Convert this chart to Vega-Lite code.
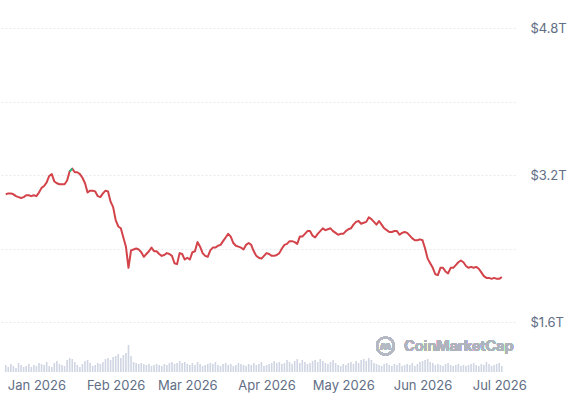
{
"$schema": "https://vega.github.io/schema/vega-lite/v6.json",
"width": 515, "height": 372,
"autosize": {"type": "none"},
"padding": {"left": 0, "top": 0, "right": 60, "bottom": 34},
"background": "white",
"config": {"view": {"stroke": null}, "font": "Inter"},
"data": {"format": {"parse": {"date": "date:'%Y-%m-%d'"}}, "values": [
{"date":"2025-12-20","v":2.99,"vol":70},{"date":"2025-12-21","v":3.00,"vol":50},{"date":"2025-12-22","v":3.00,"vol":80},{"date":"2025-12-23","v":2.99,"vol":60},{"date":"2025-12-24","v":2.97,"vol":40},{"date":"2025-12-25","v":2.96,"vol":90},{"date":"2025-12-26","v":2.95,"vol":70},{"date":"2025-12-27","v":2.96,"vol":50},{"date":"2025-12-28","v":2.98,"vol":60},{"date":"2025-12-29","v":2.98,"vol":80},{"date":"2025-12-30","v":2.97,"vol":50},{"date":"2025-12-31","v":2.98,"vol":70},
{"date":"2026-01-01","v":2.97,"vol":60},{"date":"2026-01-02","v":3.01,"vol":90},{"date":"2026-01-03","v":3.06,"vol":80},{"date":"2026-01-04","v":3.08,"vol":70},{"date":"2026-01-05","v":3.12,"vol":100},{"date":"2026-01-06","v":3.19,"vol":60},{"date":"2026-01-07","v":3.21,"vol":50},{"date":"2026-01-08","v":3.13,"vol":90},{"date":"2026-01-09","v":3.11,"vol":110},{"date":"2026-01-10","v":3.10,"vol":80},{"date":"2026-01-11","v":3.10,"vol":70},{"date":"2026-01-12","v":3.10,"vol":60},{"date":"2026-01-13","v":3.14,"vol":120},{"date":"2026-01-14","v":3.24,"vol":140},{"date":"2026-01-15","v":3.27,"vol":130},{"date":"2026-01-16","v":3.23,"vol":100},{"date":"2026-01-17","v":3.23,"vol":70},{"date":"2026-01-18","v":3.21,"vol":50},{"date":"2026-01-19","v":3.17,"vol":80},{"date":"2026-01-20","v":3.11,"vol":110},{"date":"2026-01-21","v":3.01,"vol":120},{"date":"2026-01-22","v":3.03,"vol":90},{"date":"2026-01-23","v":3.03,"vol":60},{"date":"2026-01-24","v":3.02,"vol":70},{"date":"2026-01-25","v":2.97,"vol":90},{"date":"2026-01-26","v":2.96,"vol":80},{"date":"2026-01-27","v":3.00,"vol":100},{"date":"2026-01-28","v":3.03,"vol":130},{"date":"2026-01-29","v":3.02,"vol":140},{"date":"2026-01-30","v":2.91,"vol":120},{"date":"2026-01-31","v":2.85,"vol":150},
{"date":"2026-02-01","v":2.71,"vol":160},{"date":"2026-02-02","v":2.64,"vol":180},{"date":"2026-02-03","v":2.62,"vol":140},{"date":"2026-02-04","v":2.52,"vol":170},{"date":"2026-02-05","v":2.42,"vol":190},{"date":"2026-02-06","v":2.19,"vol":270},{"date":"2026-02-07","v":2.38,"vol":160},{"date":"2026-02-08","v":2.39,"vol":100},{"date":"2026-02-09","v":2.40,"vol":90},{"date":"2026-02-10","v":2.39,"vol":80},{"date":"2026-02-11","v":2.36,"vol":90},{"date":"2026-02-12","v":2.31,"vol":80},{"date":"2026-02-13","v":2.34,"vol":70},{"date":"2026-02-14","v":2.37,"vol":80},{"date":"2026-02-15","v":2.41,"vol":60},{"date":"2026-02-16","v":2.37,"vol":70},{"date":"2026-02-17","v":2.37,"vol":80},{"date":"2026-02-18","v":2.34,"vol":70},{"date":"2026-02-19","v":2.32,"vol":60},{"date":"2026-02-20","v":2.33,"vol":80},{"date":"2026-02-21","v":2.35,"vol":70},{"date":"2026-02-22","v":2.34,"vol":90},{"date":"2026-02-23","v":2.32,"vol":100},{"date":"2026-02-24","v":2.24,"vol":80},{"date":"2026-02-25","v":2.23,"vol":90},{"date":"2026-02-26","v":2.35,"vol":110},{"date":"2026-02-27","v":2.34,"vol":90},{"date":"2026-02-28","v":2.28,"vol":100},
{"date":"2026-03-01","v":2.30,"vol":80},{"date":"2026-03-02","v":2.28,"vol":70},{"date":"2026-03-03","v":2.36,"vol":90},{"date":"2026-03-04","v":2.37,"vol":70},{"date":"2026-03-05","v":2.47,"vol":100},{"date":"2026-03-06","v":2.42,"vol":80},{"date":"2026-03-07","v":2.35,"vol":60},{"date":"2026-03-08","v":2.32,"vol":70},{"date":"2026-03-09","v":2.31,"vol":80},{"date":"2026-03-10","v":2.38,"vol":90},{"date":"2026-03-11","v":2.41,"vol":80},{"date":"2026-03-12","v":2.41,"vol":100},{"date":"2026-03-13","v":2.43,"vol":70},{"date":"2026-03-14","v":2.44,"vol":60},{"date":"2026-03-15","v":2.48,"vol":80},{"date":"2026-03-16","v":2.52,"vol":90},{"date":"2026-03-17","v":2.56,"vol":70},{"date":"2026-03-18","v":2.53,"vol":80},{"date":"2026-03-19","v":2.46,"vol":60},{"date":"2026-03-20","v":2.43,"vol":70},{"date":"2026-03-21","v":2.42,"vol":90},{"date":"2026-03-22","v":2.41,"vol":80},{"date":"2026-03-23","v":2.39,"vol":70},{"date":"2026-03-24","v":2.44,"vol":60},{"date":"2026-03-25","v":2.46,"vol":80},{"date":"2026-03-26","v":2.44,"vol":70},{"date":"2026-03-27","v":2.37,"vol":90},{"date":"2026-03-28","v":2.32,"vol":70},{"date":"2026-03-29","v":2.30,"vol":80},{"date":"2026-03-30","v":2.29,"vol":100},{"date":"2026-03-31","v":2.32,"vol":60},
{"date":"2026-04-01","v":2.35,"vol":70},{"date":"2026-04-02","v":2.34,"vol":80},{"date":"2026-04-03","v":2.32,"vol":90},{"date":"2026-04-04","v":2.32,"vol":110},{"date":"2026-04-05","v":2.33,"vol":90},{"date":"2026-04-06","v":2.35,"vol":100},{"date":"2026-04-07","v":2.40,"vol":80},{"date":"2026-04-08","v":2.44,"vol":90},{"date":"2026-04-09","v":2.45,"vol":120},{"date":"2026-04-10","v":2.48,"vol":100},{"date":"2026-04-11","v":2.48,"vol":80},{"date":"2026-04-12","v":2.47,"vol":110},{"date":"2026-04-13","v":2.45,"vol":130},{"date":"2026-04-14","v":2.53,"vol":90},{"date":"2026-04-15","v":2.53,"vol":120},{"date":"2026-04-16","v":2.56,"vol":100},{"date":"2026-04-17","v":2.59,"vol":80},{"date":"2026-04-18","v":2.59,"vol":90},{"date":"2026-04-19","v":2.54,"vol":110},{"date":"2026-04-20","v":2.52,"vol":120},{"date":"2026-04-21","v":2.56,"vol":100},{"date":"2026-04-22","v":2.59,"vol":130},{"date":"2026-04-23","v":2.62,"vol":110},{"date":"2026-04-24","v":2.60,"vol":90},{"date":"2026-04-25","v":2.61,"vol":80},{"date":"2026-04-26","v":2.62,"vol":100},{"date":"2026-04-27","v":2.59,"vol":120},{"date":"2026-04-28","v":2.57,"vol":90},{"date":"2026-04-29","v":2.55,"vol":70},{"date":"2026-04-30","v":2.56,"vol":60},
{"date":"2026-05-01","v":2.56,"vol":80},{"date":"2026-05-02","v":2.59,"vol":70},{"date":"2026-05-03","v":2.61,"vol":90},{"date":"2026-05-04","v":2.62,"vol":100},{"date":"2026-05-05","v":2.66,"vol":80},{"date":"2026-05-06","v":2.69,"vol":110},{"date":"2026-05-07","v":2.70,"vol":90},{"date":"2026-05-08","v":2.67,"vol":120},{"date":"2026-05-09","v":2.68,"vol":130},{"date":"2026-05-10","v":2.69,"vol":110},{"date":"2026-05-11","v":2.74,"vol":140},{"date":"2026-05-12","v":2.72,"vol":120},{"date":"2026-05-13","v":2.69,"vol":90},{"date":"2026-05-14","v":2.66,"vol":80},{"date":"2026-05-15","v":2.70,"vol":70},{"date":"2026-05-16","v":2.66,"vol":60},{"date":"2026-05-17","v":2.62,"vol":80},{"date":"2026-05-18","v":2.60,"vol":90},{"date":"2026-05-19","v":2.58,"vol":70},{"date":"2026-05-20","v":2.58,"vol":60},{"date":"2026-05-21","v":2.59,"vol":80},{"date":"2026-05-22","v":2.59,"vol":70},{"date":"2026-05-23","v":2.55,"vol":90},{"date":"2026-05-24","v":2.57,"vol":60},{"date":"2026-05-25","v":2.58,"vol":70},{"date":"2026-05-26","v":2.57,"vol":80},{"date":"2026-05-27","v":2.54,"vol":70},{"date":"2026-05-28","v":2.51,"vol":90},{"date":"2026-05-29","v":2.49,"vol":60},{"date":"2026-05-30","v":2.49,"vol":80},{"date":"2026-05-31","v":2.50,"vol":100},
{"date":"2026-06-01","v":2.49,"vol":110},{"date":"2026-06-02","v":2.40,"vol":120},{"date":"2026-06-03","v":2.29,"vol":130},{"date":"2026-06-04","v":2.24,"vol":100},{"date":"2026-06-05","v":2.19,"vol":90},{"date":"2026-06-06","v":2.12,"vol":70},{"date":"2026-06-07","v":2.11,"vol":80},{"date":"2026-06-08","v":2.19,"vol":70},{"date":"2026-06-09","v":2.19,"vol":60},{"date":"2026-06-10","v":2.15,"vol":80},{"date":"2026-06-11","v":2.13,"vol":90},{"date":"2026-06-12","v":2.19,"vol":70},{"date":"2026-06-13","v":2.19,"vol":60},{"date":"2026-06-14","v":2.22,"vol":70},{"date":"2026-06-15","v":2.25,"vol":80},{"date":"2026-06-16","v":2.27,"vol":60},{"date":"2026-06-17","v":2.25,"vol":70},{"date":"2026-06-18","v":2.21,"vol":60},{"date":"2026-06-19","v":2.19,"vol":70},{"date":"2026-06-20","v":2.20,"vol":80},{"date":"2026-06-21","v":2.19,"vol":90},{"date":"2026-06-22","v":2.20,"vol":70},{"date":"2026-06-23","v":2.18,"vol":60},{"date":"2026-06-24","v":2.14,"vol":80},{"date":"2026-06-25","v":2.10,"vol":70},{"date":"2026-06-26","v":2.08,"vol":100},{"date":"2026-06-27","v":2.08,"vol":80},{"date":"2026-06-28","v":2.07,"vol":60},{"date":"2026-06-29","v":2.08,"vol":70},{"date":"2026-06-30","v":2.07,"vol":80},
{"date":"2026-07-01","v":2.07,"vol":90},{"date":"2026-07-02","v":2.09,"vol":60}
]},
"layer": [
 {
  "mark": {"type": "bar", "color": "#cfd5e2", "size": 1.6},
  "encoding": {
   "x": {"field": "date", "type": "temporal",
     "scale": {"domain": [{"year": 2025, "month": 12, "date": 19, "hours": 17}, {"year": 2026, "month": 7, "date": 5, "hours": 5}]},
     "axis": {"format": "%b %Y", "tickCount": {"interval": "month", "step": 1}, "grid": false, "ticks": false, "domain": false, "labelColor": "#616e85", "labelFontSize": 13, "labelPadding": 7, "labelFlush": false, "labelOverlap": false, "title": null}},
   "y": {"field": "vol", "type": "quantitative", "scale": {"domain": [0, 3720], "nice": false, "zero": true}, "axis": null}
  }
 },
 {
  "mark": {"type": "line", "color": "#d3434a", "strokeWidth": 2, "strokeJoin": "round"},
  "encoding": {
   "x": {"field": "date", "type": "temporal"},
   "y": {"field": "v", "type": "quantitative", "scale": {"domain": [1.056, 5.105], "nice": false, "zero": false},
     "axis": {"orient": "right", "values": [1.6, 2.4, 3.2, 4.0, 4.8], "labelExpr": "(datum.value == 2.4 || datum.value == 4) ? '' : '$' + format(datum.value, '.1f') + 'T'", "grid": true, "gridColor": "#e8eaee", "gridDash": [2, 2], "ticks": false, "domain": false, "labelPadding": 15, "labelAlign": "left", "labelColor": "#616e85", "labelFontSize": 13, "title": null}}
  }
 },
 {
  "transform": [{"filter": "datum.v >= 3.235"}],
  "mark": {"type": "line", "color": "#16c784", "strokeWidth": 2, "strokeJoin": "round"},
  "encoding": {
   "x": {"field": "date", "type": "temporal"},
   "y": {"field": "v", "type": "quantitative", "scale": {"domain": [1.056, 5.105], "nice": false, "zero": false}, "axis": null}
  }
 },
 {
  "mark": {"type": "point", "shape": "circle", "filled": false, "stroke": "#b4b9c3", "strokeWidth": 2, "size": 290},
  "encoding": {
   "x": {"datum": {"year": 2026, "month": 5, "date": 17, "hours": 12}, "type": "temporal"},
   "y": {"datum": 1.339, "type": "quantitative", "scale": {"domain": [1.056, 5.105], "nice": false, "zero": false}, "axis": null}
  }
 },
 {
  "mark": {"type": "text", "text": "ʍ", "fontSize": 13, "fontWeight": 700, "color": "#b4b9c3", "align": "center", "baseline": "middle", "font": "DejaVu Sans"},
  "encoding": {
   "x": {"datum": {"year": 2026, "month": 5, "date": 17, "hours": 12}, "type": "temporal"},
   "y": {"datum": 1.339, "type": "quantitative", "scale": {"domain": [1.056, 5.105], "nice": false, "zero": false}, "axis": null}
  }
 },
 {
  "mark": {"type": "text", "text": "CoinMarketCap", "fontSize": 14.5, "fontWeight": 600, "color": "#aeb3bd", "align": "left", "baseline": "middle"},
  "encoding": {
   "x": {"datum": {"year": 2026, "month": 5, "date": 24, "hours": 19}, "type": "temporal"},
   "y": {"datum": 1.328, "type": "quantitative", "scale": {"domain": [1.056, 5.105], "nice": false, "zero": false}, "axis": null}
  }
 }
],
"resolve": {"scale": {"y": "independent"}}
}
